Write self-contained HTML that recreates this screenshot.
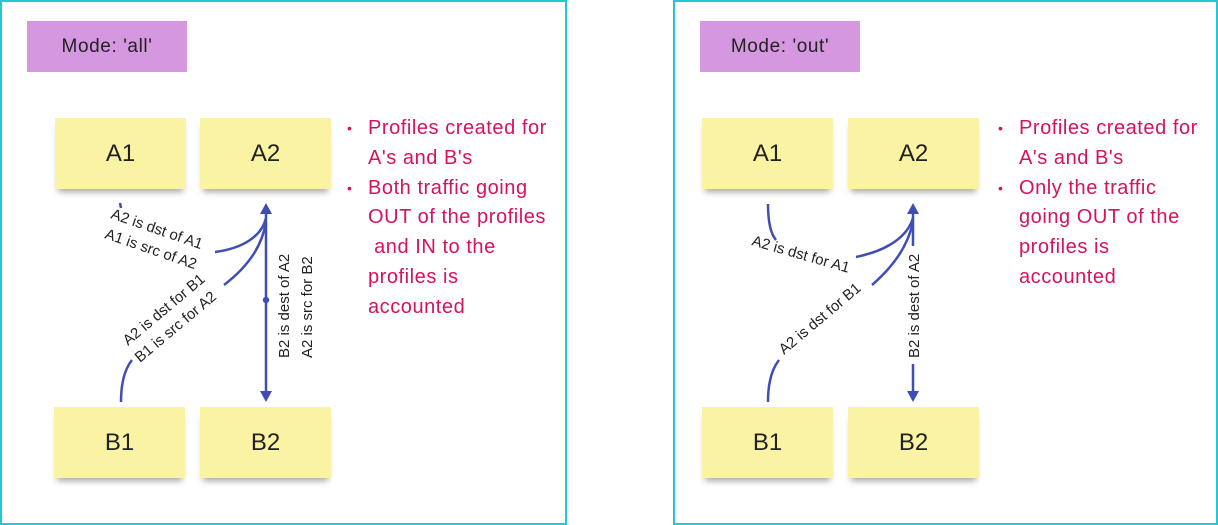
<!DOCTYPE html>
<html><head><style>
body{margin:0;width:1218px;height:525px;background:#fff;position:relative;font-family:"Liberation Sans",sans-serif;overflow:hidden}
.panel{position:absolute;border:2px solid #22c8d2;box-sizing:border-box}
.mode{position:absolute;background:#d597df;width:160px;height:51px;font-size:19px;letter-spacing:0.6px;color:#222;display:flex;align-items:center;justify-content:center}
.st{position:absolute;width:131px;height:71px;background:#fbf3a4;font-size:24px;color:#222;display:flex;align-items:center;justify-content:center;box-shadow:0 6px 6px -3px rgba(0,0,0,.35)}
.bl{position:absolute;font-size:20px;letter-spacing:0.55px;line-height:29.8px;color:#d8115f;width:220px;white-space:nowrap}
.bl div{position:relative}
.bl div.b::before{content:"•";position:absolute;left:-21px;font-size:14px}
svg{position:absolute;left:0;top:0}
svg text{font-family:"Liberation Sans",sans-serif;font-size:15px;fill:#222}
</style></head><body>
<div class="panel" style="left:0;top:0;width:567px;height:525px"></div>
<div class="panel" style="left:673px;top:0;width:545px;height:525px"></div>
<div class="mode" style="left:27px;top:21px">Mode: 'all'</div>
<div class="mode" style="left:700px;top:21px">Mode: 'out'</div>
<div class="st" style="left:55px;top:118px">A1</div>
<div class="st" style="left:200px;top:118px">A2</div>
<div class="st" style="left:54px;top:407px">B1</div>
<div class="st" style="left:200px;top:407px">B2</div>
<div class="st" style="left:702px;top:118px">A1</div>
<div class="st" style="left:848px;top:118px">A2</div>
<div class="st" style="left:702px;top:407px">B1</div>
<div class="st" style="left:848px;top:407px">B2</div>
<div class="bl" style="left:368px;top:114px"><div class="b">Profiles created for</div><div>A's and B's</div><div class="b">Both traffic going</div><div>OUT of the profiles</div><div>&nbsp;and IN to the</div><div>profiles is</div><div>accounted</div></div>
<div class="bl" style="left:1019px;top:114px"><div class="b">Profiles created for</div><div>A's and B's</div><div class="b">Only the traffic</div><div>going OUT of the</div><div>profiles is</div><div>accounted</div></div>
<svg width="1218" height="525" fill="none" stroke="#3f4db5" stroke-width="2.5">
<line x1="266" y1="212" x2="266" y2="396"/>
<polygon points="266,203 260,214 272,214" fill="#3f4db5" stroke="none"/>
<polygon points="266,402 260,391 272,391" fill="#3f4db5" stroke="none"/>
<circle cx="266" cy="300" r="2" fill="#3f4db5"/>
<path d="M120,203 L121,208"/>
<path d="M215,252 C245,248 262,235 266,218"/>
<path d="M224,285 C250,265 262,245 266,222"/>
<path d="M121,402 C121,385 124,370 132,360"/>
<g stroke="none">
<text transform="translate(110,218) rotate(19)">A2 is dst of A1</text>
<text transform="translate(104,238) rotate(19)">A1 is src of A2</text>
<text transform="translate(128,346) rotate(-40)">A2 is dst for B1</text>
<text transform="translate(140,363) rotate(-40)">B1 is src for A2</text>
<text transform="translate(289,358) rotate(-90)">B2 is dest of A2</text>
<text transform="translate(312,358) rotate(-90)">A2 is src for B2</text>
</g>
<line x1="913" y1="212" x2="913" y2="246"/>
<line x1="913" y1="364" x2="913" y2="396"/>
<polygon points="913,203 907,214 919,214" fill="#3f4db5" stroke="none"/>
<polygon points="913,402 907,391 919,391" fill="#3f4db5" stroke="none"/>
<path d="M768,204 C768,220 770,233 776,240"/>
<path d="M856,257 C890,250 908,235 913,218"/>
<path d="M872,285 C895,265 908,245 913,222"/>
<path d="M768,402 C768,385 771,370 779,360"/>
<g stroke="none">
<text transform="translate(751,245) rotate(16)">A2 is dst for A1</text>
<text transform="translate(784,355) rotate(-40)">A2 is dst for B1</text>
<text transform="translate(919,358) rotate(-90)">B2 is dest of A2</text>
</g>
</svg>
</body></html>
